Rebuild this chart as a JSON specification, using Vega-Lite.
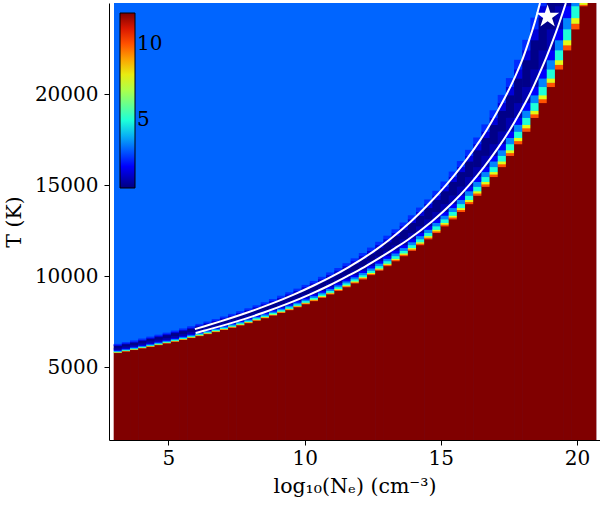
{
"$schema":"https://vega.github.io/schema/vega-lite/v6.json",
"width":491,"height":437,
"autosize":{"type":"none"},
"padding":{"left":109,"top":3,"right":0,"bottom":66},
"background":"white",
"config":{"view":{"stroke":null},
"axis":{"labelFont":"DejaVu Serif","titleFont":"DejaVu Serif","labelFontSize":20,"titleFontSize":20.5,"titleFontWeight":"normal","labelColor":"black","titleColor":"black","domainColor":"black","tickColor":"black","tickSize":5,"grid":false},
"legend":{"orient":"none","legendX":11,"legendY":10,"direction":"vertical","gradientLength":175,"gradientThickness":15,"labelFont":"DejaVu Serif","labelFontSize":20,"labelColor":"black","labelOffset":10,"gradientStrokeColor":"black","gradientStrokeWidth":1,"padding":0}},
"datasets":{
"bg":[{"x0":3,"x1":20.7,"a":1000,"b":25000,"v":3.15}],
"star":[{"x":18.92,"T":24250}],
"lines":[
{"l":"u","x":5.97,"T":7088},{"l":"u","x":6.33,"T":7250},{"l":"u","x":6.88,"T":7500},{"l":"u","x":7.90,"T":8000},{"l":"u","x":8.81,"T":8500},{"l":"u","x":9.62,"T":9000},{"l":"u","x":10.35,"T":9500},{"l":"u","x":11.02,"T":10000},{"l":"u","x":11.62,"T":10500},{"l":"u","x":12.17,"T":11000},{"l":"u","x":12.66,"T":11500},{"l":"u","x":13.11,"T":12000},{"l":"u","x":13.90,"T":13000},{"l":"u","x":14.58,"T":14000},{"l":"u","x":15.19,"T":15000},{"l":"u","x":15.74,"T":16000},{"l":"u","x":16.23,"T":17000},{"l":"u","x":16.67,"T":18000},{"l":"u","x":17.06,"T":19000},{"l":"u","x":17.42,"T":20000},{"l":"u","x":17.74,"T":21000},{"l":"u","x":18.02,"T":22000},{"l":"u","x":18.25,"T":23000},{"l":"u","x":18.46,"T":24000},{"l":"u","x":18.64,"T":25000},
{"l":"d","x":6.0,"T":6877},{"l":"d","x":6.30,"T":7000},{"l":"d","x":7.48,"T":7500},{"l":"d","x":8.50,"T":8000},{"l":"d","x":9.40,"T":8500},{"l":"d","x":10.20,"T":9000},{"l":"d","x":10.92,"T":9500},{"l":"d","x":11.57,"T":10000},{"l":"d","x":12.19,"T":10500},{"l":"d","x":12.75,"T":11000},{"l":"d","x":13.28,"T":11500},{"l":"d","x":13.79,"T":12000},{"l":"d","x":14.67,"T":13000},{"l":"d","x":15.41,"T":14000},{"l":"d","x":16.04,"T":15000},{"l":"d","x":16.59,"T":16000},{"l":"d","x":17.08,"T":17000},{"l":"d","x":17.52,"T":18000},{"l":"d","x":17.91,"T":19000},{"l":"d","x":18.27,"T":20000},{"l":"d","x":18.58,"T":21000},{"l":"d","x":18.87,"T":22000},{"l":"d","x":19.13,"T":23000},{"l":"d","x":19.37,"T":24000},{"l":"d","x":19.59,"T":25000}
],
"cells":[
{"x":3.15,"a":1000,"b":5802,"v":12.5},{"x":3.15,"a":5802,"b":5823,"v":10},{"x":3.15,"a":5823,"b":5844,"v":7.8},{"x":3.15,"a":5844,"b":5885,"v":5},{"x":3.15,"a":5885,"b":5927,"v":3.5},{"x":3.15,"a":5927,"b":5968,"v":2},{"x":3.15,"a":5968,"b":6054,"v":1.15},{"x":3.15,"a":6054,"b":6187,"v":0.7},{"x":3.15,"a":6187,"b":6233,"v":1.6},{"x":3.15,"a":6233,"b":6280,"v":2.5},
{"x":3.45,"a":1000,"b":5885,"v":12.5},{"x":3.45,"a":5885,"b":5906,"v":10},{"x":3.45,"a":5906,"b":5927,"v":7.8},{"x":3.45,"a":5927,"b":5968,"v":5},{"x":3.45,"a":5968,"b":6010,"v":3.5},{"x":3.45,"a":6010,"b":6054,"v":2},{"x":3.45,"a":6054,"b":6143,"v":1.15},{"x":3.45,"a":6143,"b":6280,"v":0.7},{"x":3.45,"a":6280,"b":6327,"v":1.6},{"x":3.45,"a":6327,"b":6374,"v":2.5},
{"x":3.75,"a":1000,"b":5968,"v":12.5},{"x":3.75,"a":5968,"b":5989,"v":10},{"x":3.75,"a":5989,"b":6010,"v":7.8},{"x":3.75,"a":6010,"b":6054,"v":5},{"x":3.75,"a":6054,"b":6099,"v":3.5},{"x":3.75,"a":6099,"b":6143,"v":2},{"x":3.75,"a":6143,"b":6233,"v":1.15},{"x":3.75,"a":6233,"b":6374,"v":0.7},{"x":3.75,"a":6374,"b":6423,"v":1.6},{"x":3.75,"a":6423,"b":6473,"v":2.5},
{"x":4.05,"a":1000,"b":6054,"v":12.5},{"x":4.05,"a":6054,"b":6077,"v":10},{"x":4.05,"a":6077,"b":6099,"v":7.8},{"x":4.05,"a":6099,"b":6143,"v":5},{"x":4.05,"a":6143,"b":6187,"v":3.5},{"x":4.05,"a":6187,"b":6233,"v":2},{"x":4.05,"a":6233,"b":6327,"v":1.15},{"x":4.05,"a":6327,"b":6473,"v":0.7},{"x":4.05,"a":6473,"b":6523,"v":1.6},{"x":4.05,"a":6523,"b":6573,"v":2.5},
{"x":4.35,"a":1000,"b":6143,"v":12.5},{"x":4.35,"a":6143,"b":6165,"v":10},{"x":4.35,"a":6165,"b":6187,"v":7.8},{"x":4.35,"a":6187,"b":6233,"v":5},{"x":4.35,"a":6233,"b":6280,"v":3.5},{"x":4.35,"a":6280,"b":6327,"v":2},{"x":4.35,"a":6327,"b":6423,"v":1.15},{"x":4.35,"a":6423,"b":6573,"v":0.7},{"x":4.35,"a":6573,"b":6625,"v":1.6},{"x":4.35,"a":6625,"b":6678,"v":2.5},
{"x":4.65,"a":1000,"b":6233,"v":12.5},{"x":4.65,"a":6233,"b":6257,"v":10},{"x":4.65,"a":6257,"b":6280,"v":7.8},{"x":4.65,"a":6280,"b":6327,"v":5},{"x":4.65,"a":6327,"b":6374,"v":3.5},{"x":4.65,"a":6374,"b":6423,"v":2},{"x":4.65,"a":6423,"b":6523,"v":1.15},{"x":4.65,"a":6523,"b":6678,"v":0.7},{"x":4.65,"a":6678,"b":6731,"v":1.6},{"x":4.65,"a":6731,"b":6784,"v":2.5},
{"x":4.95,"a":1000,"b":6327,"v":12.5},{"x":4.95,"a":6327,"b":6351,"v":10},{"x":4.95,"a":6351,"b":6374,"v":7.8},{"x":4.95,"a":6374,"b":6423,"v":5},{"x":4.95,"a":6423,"b":6473,"v":3.5},{"x":4.95,"a":6473,"b":6523,"v":2},{"x":4.95,"a":6523,"b":6625,"v":1.15},{"x":4.95,"a":6625,"b":6784,"v":0.7},{"x":4.95,"a":6784,"b":6839,"v":1.6},{"x":4.95,"a":6839,"b":6896,"v":2.5},
{"x":5.25,"a":1000,"b":6423,"v":12.5},{"x":5.25,"a":6423,"b":6448,"v":10},{"x":5.25,"a":6448,"b":6473,"v":7.8},{"x":5.25,"a":6473,"b":6523,"v":5},{"x":5.25,"a":6523,"b":6573,"v":3.5},{"x":5.25,"a":6573,"b":6625,"v":2},{"x":5.25,"a":6625,"b":6731,"v":1.15},{"x":5.25,"a":6731,"b":6896,"v":0.7},{"x":5.25,"a":6896,"b":6952,"v":1.6},{"x":5.25,"a":6952,"b":7009,"v":2.5},
{"x":5.55,"a":1000,"b":6523,"v":12.5},{"x":5.55,"a":6523,"b":6548,"v":10},{"x":5.55,"a":6548,"b":6573,"v":7.8},{"x":5.55,"a":6573,"b":6625,"v":5},{"x":5.55,"a":6625,"b":6678,"v":3.5},{"x":5.55,"a":6678,"b":6731,"v":2},{"x":5.55,"a":6731,"b":6839,"v":1.15},{"x":5.55,"a":6839,"b":7009,"v":0.7},{"x":5.55,"a":7009,"b":7068,"v":1.6},{"x":5.55,"a":7068,"b":7128,"v":2.5},
{"x":5.85,"a":1000,"b":6625,"v":12.5},{"x":5.85,"a":6625,"b":6652,"v":10},{"x":5.85,"a":6652,"b":6678,"v":7.8},{"x":5.85,"a":6678,"b":6731,"v":5},{"x":5.85,"a":6731,"b":6784,"v":3.5},{"x":5.85,"a":6784,"b":6839,"v":2},{"x":5.85,"a":6839,"b":6952,"v":1.15},{"x":5.85,"a":6952,"b":7128,"v":0.7},{"x":5.85,"a":7128,"b":7188,"v":1.6},{"x":5.85,"a":7188,"b":7250,"v":2.5},
{"x":6.15,"a":1000,"b":6731,"v":12.5},{"x":6.15,"a":6731,"b":6758,"v":10},{"x":6.15,"a":6758,"b":6784,"v":7.8},{"x":6.15,"a":6784,"b":6839,"v":5},{"x":6.15,"a":6839,"b":6896,"v":3.5},{"x":6.15,"a":6896,"b":6952,"v":2},{"x":6.15,"a":6952,"b":7068,"v":1.15},{"x":6.15,"a":7068,"b":7250,"v":0.7},{"x":6.15,"a":7250,"b":7313,"v":1.6},{"x":6.15,"a":7313,"b":7376,"v":2.5},
{"x":6.45,"a":1000,"b":6839,"v":12.5},{"x":6.45,"a":6839,"b":6868,"v":10},{"x":6.45,"a":6868,"b":6896,"v":7.8},{"x":6.45,"a":6896,"b":6952,"v":5},{"x":6.45,"a":6952,"b":7009,"v":3.5},{"x":6.45,"a":7009,"b":7068,"v":2},{"x":6.45,"a":7068,"b":7188,"v":1.15},{"x":6.45,"a":7188,"b":7376,"v":0.7},{"x":6.45,"a":7376,"b":7441,"v":1.6},{"x":6.45,"a":7441,"b":7507,"v":2.5},
{"x":6.75,"a":1000,"b":6952,"v":12.5},{"x":6.75,"a":6952,"b":6981,"v":10},{"x":6.75,"a":6981,"b":7009,"v":7.8},{"x":6.75,"a":7009,"b":7068,"v":5},{"x":6.75,"a":7068,"b":7128,"v":3.5},{"x":6.75,"a":7128,"b":7188,"v":2},{"x":6.75,"a":7188,"b":7313,"v":1.15},{"x":6.75,"a":7313,"b":7507,"v":0.7},{"x":6.75,"a":7507,"b":7573,"v":1.6},{"x":6.75,"a":7573,"b":7642,"v":2.5},
{"x":7.05,"a":1000,"b":7068,"v":12.5},{"x":7.05,"a":7068,"b":7098,"v":10},{"x":7.05,"a":7098,"b":7128,"v":7.8},{"x":7.05,"a":7128,"b":7188,"v":5},{"x":7.05,"a":7188,"b":7250,"v":3.5},{"x":7.05,"a":7250,"b":7313,"v":2},{"x":7.05,"a":7313,"b":7441,"v":1.15},{"x":7.05,"a":7441,"b":7642,"v":0.7},{"x":7.05,"a":7642,"b":7712,"v":1.6},{"x":7.05,"a":7712,"b":7781,"v":2.5},
{"x":7.35,"a":1000,"b":7188,"v":12.5},{"x":7.35,"a":7188,"b":7219,"v":10},{"x":7.35,"a":7219,"b":7250,"v":7.8},{"x":7.35,"a":7250,"b":7313,"v":5},{"x":7.35,"a":7313,"b":7376,"v":3.5},{"x":7.35,"a":7376,"b":7441,"v":2},{"x":7.35,"a":7441,"b":7573,"v":1.15},{"x":7.35,"a":7573,"b":7781,"v":0.7},{"x":7.35,"a":7781,"b":7854,"v":1.6},{"x":7.35,"a":7854,"b":7927,"v":2.5},
{"x":7.65,"a":1000,"b":7313,"v":12.5},{"x":7.65,"a":7313,"b":7345,"v":10},{"x":7.65,"a":7345,"b":7376,"v":7.8},{"x":7.65,"a":7376,"b":7441,"v":5},{"x":7.65,"a":7441,"b":7507,"v":3.5},{"x":7.65,"a":7507,"b":7573,"v":2},{"x":7.65,"a":7573,"b":7712,"v":1.15},{"x":7.65,"a":7712,"b":7927,"v":0.7},{"x":7.65,"a":7927,"b":8001,"v":1.6},{"x":7.65,"a":8001,"b":8079,"v":2.5},
{"x":7.95,"a":1000,"b":7441,"v":12.5},{"x":7.95,"a":7441,"b":7474,"v":10},{"x":7.95,"a":7474,"b":7507,"v":7.8},{"x":7.95,"a":7507,"b":7573,"v":5},{"x":7.95,"a":7573,"b":7642,"v":3.5},{"x":7.95,"a":7642,"b":7712,"v":2},{"x":7.95,"a":7712,"b":7854,"v":1.15},{"x":7.95,"a":7854,"b":8079,"v":0.7},{"x":7.95,"a":8079,"b":8156,"v":1.6},{"x":7.95,"a":8156,"b":8234,"v":2.5},
{"x":8.25,"a":1000,"b":7573,"v":12.5},{"x":8.25,"a":7573,"b":7608,"v":10},{"x":8.25,"a":7608,"b":7642,"v":7.8},{"x":8.25,"a":7642,"b":7712,"v":5},{"x":8.25,"a":7712,"b":7781,"v":3.5},{"x":8.25,"a":7781,"b":7854,"v":2},{"x":8.25,"a":7854,"b":8001,"v":1.15},{"x":8.25,"a":8001,"b":8234,"v":0.7},{"x":8.25,"a":8234,"b":8315,"v":1.6},{"x":8.25,"a":8315,"b":8397,"v":2.5},
{"x":8.55,"a":1000,"b":7712,"v":12.5},{"x":8.55,"a":7712,"b":7747,"v":10},{"x":8.55,"a":7747,"b":7781,"v":7.8},{"x":8.55,"a":7781,"b":7854,"v":5},{"x":8.55,"a":7854,"b":7927,"v":3.5},{"x":8.55,"a":7927,"b":8001,"v":2},{"x":8.55,"a":8001,"b":8156,"v":1.15},{"x":8.55,"a":8156,"b":8397,"v":0.7},{"x":8.55,"a":8397,"b":8479,"v":1.6},{"x":8.55,"a":8479,"b":8566,"v":2.5},
{"x":8.85,"a":1000,"b":7854,"v":12.5},{"x":8.85,"a":7854,"b":7891,"v":10},{"x":8.85,"a":7891,"b":7927,"v":7.8},{"x":8.85,"a":7927,"b":8001,"v":5},{"x":8.85,"a":8001,"b":8079,"v":3.5},{"x":8.85,"a":8079,"b":8156,"v":2},{"x":8.85,"a":8156,"b":8315,"v":1.15},{"x":8.85,"a":8315,"b":8566,"v":0.7},{"x":8.85,"a":8566,"b":8653,"v":1.6},{"x":8.85,"a":8653,"b":8740,"v":2.5},
{"x":9.15,"a":1000,"b":8001,"v":12.5},{"x":9.15,"a":8001,"b":8040,"v":10},{"x":9.15,"a":8040,"b":8079,"v":7.8},{"x":9.15,"a":8079,"b":8156,"v":5},{"x":9.15,"a":8156,"b":8234,"v":3.5},{"x":9.15,"a":8234,"b":8315,"v":2},{"x":9.15,"a":8315,"b":8479,"v":1.15},{"x":9.15,"a":8479,"b":8740,"v":0.7},{"x":9.15,"a":8740,"b":8832,"v":1.6},{"x":9.15,"a":8832,"b":8924,"v":2.5},
{"x":9.45,"a":1000,"b":8156,"v":12.5},{"x":9.45,"a":8156,"b":8195,"v":10},{"x":9.45,"a":8195,"b":8234,"v":7.8},{"x":9.45,"a":8234,"b":8315,"v":5},{"x":9.45,"a":8315,"b":8397,"v":3.5},{"x":9.45,"a":8397,"b":8479,"v":2},{"x":9.45,"a":8479,"b":8653,"v":1.15},{"x":9.45,"a":8653,"b":8924,"v":0.7},{"x":9.45,"a":8924,"b":9018,"v":1.6},{"x":9.45,"a":9018,"b":9115,"v":2.5},
{"x":9.75,"a":1000,"b":8315,"v":12.5},{"x":9.75,"a":8315,"b":8356,"v":10},{"x":9.75,"a":8356,"b":8397,"v":7.8},{"x":9.75,"a":8397,"b":8479,"v":5},{"x":9.75,"a":8479,"b":8566,"v":3.5},{"x":9.75,"a":8566,"b":8653,"v":2},{"x":9.75,"a":8653,"b":8832,"v":1.15},{"x":9.75,"a":8832,"b":9115,"v":0.7},{"x":9.75,"a":9115,"b":9212,"v":1.6},{"x":9.75,"a":9212,"b":9313,"v":2.5},
{"x":10.05,"a":1000,"b":8479,"v":12.5},{"x":10.05,"a":8479,"b":8523,"v":10},{"x":10.05,"a":8523,"b":8566,"v":7.8},{"x":10.05,"a":8566,"b":8653,"v":5},{"x":10.05,"a":8653,"b":8740,"v":3.5},{"x":10.05,"a":8740,"b":8832,"v":2},{"x":10.05,"a":8832,"b":9018,"v":1.15},{"x":10.05,"a":9018,"b":9313,"v":0.7},{"x":10.05,"a":9313,"b":9415,"v":1.6},{"x":10.05,"a":9415,"b":9519,"v":2.5},
{"x":10.35,"a":1000,"b":8653,"v":12.5},{"x":10.35,"a":8653,"b":8697,"v":10},{"x":10.35,"a":8697,"b":8740,"v":7.8},{"x":10.35,"a":8740,"b":8832,"v":5},{"x":10.35,"a":8832,"b":8924,"v":3.5},{"x":10.35,"a":8924,"b":9018,"v":2},{"x":10.35,"a":9018,"b":9212,"v":1.15},{"x":10.35,"a":9212,"b":9519,"v":0.7},{"x":10.35,"a":9519,"b":9627,"v":1.6},{"x":10.35,"a":9627,"b":9735,"v":2.5},
{"x":10.65,"a":1000,"b":8832,"v":12.5},{"x":10.65,"a":8832,"b":8878,"v":10},{"x":10.65,"a":8878,"b":8924,"v":7.8},{"x":10.65,"a":8924,"b":9018,"v":5},{"x":10.65,"a":9018,"b":9115,"v":3.5},{"x":10.65,"a":9115,"b":9212,"v":2},{"x":10.65,"a":9212,"b":9415,"v":1.15},{"x":10.65,"a":9415,"b":9735,"v":0.7},{"x":10.65,"a":9735,"b":9848,"v":1.6},{"x":10.65,"a":9848,"b":9961,"v":2.5},
{"x":10.95,"a":1000,"b":9018,"v":12.5},{"x":10.95,"a":9018,"b":9067,"v":10},{"x":10.95,"a":9067,"b":9115,"v":7.8},{"x":10.95,"a":9115,"b":9212,"v":5},{"x":10.95,"a":9212,"b":9313,"v":3.5},{"x":10.95,"a":9313,"b":9415,"v":2},{"x":10.95,"a":9415,"b":9627,"v":1.15},{"x":10.95,"a":9627,"b":9961,"v":0.7},{"x":10.95,"a":9961,"b":10081,"v":1.6},{"x":10.95,"a":10081,"b":10203,"v":2.5},
{"x":11.25,"a":1000,"b":9212,"v":12.5},{"x":11.25,"a":9212,"b":9263,"v":10},{"x":11.25,"a":9263,"b":9313,"v":7.8},{"x":11.25,"a":9313,"b":9415,"v":5},{"x":11.25,"a":9415,"b":9519,"v":3.5},{"x":11.25,"a":9519,"b":9627,"v":2},{"x":11.25,"a":9627,"b":9848,"v":1.15},{"x":11.25,"a":9848,"b":10203,"v":0.7},{"x":11.25,"a":10203,"b":10325,"v":1.6},{"x":11.25,"a":10325,"b":10447,"v":2.5},
{"x":11.55,"a":1000,"b":9415,"v":12.5},{"x":11.55,"a":9415,"b":9467,"v":10},{"x":11.55,"a":9467,"b":9519,"v":7.8},{"x":11.55,"a":9519,"b":9627,"v":5},{"x":11.55,"a":9627,"b":9735,"v":3.5},{"x":11.55,"a":9735,"b":9848,"v":2},{"x":11.55,"a":9848,"b":10081,"v":1.15},{"x":11.55,"a":10081,"b":10447,"v":0.7},{"x":11.55,"a":10447,"b":10576,"v":1.6},{"x":11.55,"a":10576,"b":10710,"v":2.5},
{"x":11.85,"a":1000,"b":9627,"v":12.5},{"x":11.85,"a":9627,"b":9681,"v":10},{"x":11.85,"a":9681,"b":9735,"v":7.8},{"x":11.85,"a":9735,"b":9848,"v":5},{"x":11.85,"a":9848,"b":9961,"v":3.5},{"x":11.85,"a":9961,"b":10081,"v":2},{"x":11.85,"a":10081,"b":10325,"v":1.15},{"x":11.85,"a":10325,"b":10710,"v":0.7},{"x":11.85,"a":10710,"b":10844,"v":1.6},{"x":11.85,"a":10844,"b":10978,"v":2.5},
{"x":12.15,"a":1000,"b":9848,"v":12.5},{"x":12.15,"a":9848,"b":9905,"v":10},{"x":12.15,"a":9905,"b":9961,"v":7.8},{"x":12.15,"a":9961,"b":10081,"v":5},{"x":12.15,"a":10081,"b":10203,"v":3.5},{"x":12.15,"a":10203,"b":10325,"v":2},{"x":12.15,"a":10325,"b":10576,"v":1.15},{"x":12.15,"a":10576,"b":10978,"v":0.7},{"x":12.15,"a":10978,"b":11122,"v":1.6},{"x":12.15,"a":11122,"b":11269,"v":2.5},
{"x":12.45,"a":1000,"b":10081,"v":12.5},{"x":12.45,"a":10081,"b":10142,"v":10},{"x":12.45,"a":10142,"b":10203,"v":7.8},{"x":12.45,"a":10203,"b":10325,"v":5},{"x":12.45,"a":10325,"b":10447,"v":3.5},{"x":12.45,"a":10447,"b":10576,"v":2},{"x":12.45,"a":10576,"b":10844,"v":1.15},{"x":12.45,"a":10844,"b":11269,"v":0.7},{"x":12.45,"a":11269,"b":11415,"v":1.6},{"x":12.45,"a":11415,"b":11567,"v":2.5},
{"x":12.75,"a":1000,"b":10325,"v":12.5},{"x":12.75,"a":10325,"b":10386,"v":10},{"x":12.75,"a":10386,"b":10447,"v":7.8},{"x":12.75,"a":10447,"b":10576,"v":5},{"x":12.75,"a":10576,"b":10710,"v":3.5},{"x":12.75,"a":10710,"b":10844,"v":2},{"x":12.75,"a":10844,"b":11122,"v":1.15},{"x":12.75,"a":11122,"b":11567,"v":0.7},{"x":12.75,"a":11567,"b":11726,"v":1.6},{"x":12.75,"a":11726,"b":11885,"v":2.5},
{"x":13.05,"a":1000,"b":10576,"v":12.5},{"x":13.05,"a":10576,"b":10643,"v":10},{"x":13.05,"a":10643,"b":10710,"v":7.8},{"x":13.05,"a":10710,"b":10844,"v":5},{"x":13.05,"a":10844,"b":10978,"v":3.5},{"x":13.05,"a":10978,"b":11122,"v":2},{"x":13.05,"a":11122,"b":11415,"v":1.15},{"x":13.05,"a":11415,"b":11885,"v":0.7},{"x":13.05,"a":11885,"b":12048,"v":1.6},{"x":13.05,"a":12048,"b":12221,"v":2.5},
{"x":13.35,"a":1000,"b":10844,"v":12.5},{"x":13.35,"a":10844,"b":10911,"v":10},{"x":13.35,"a":10911,"b":10978,"v":7.8},{"x":13.35,"a":10978,"b":11122,"v":5},{"x":13.35,"a":11122,"b":11269,"v":3.5},{"x":13.35,"a":11269,"b":11415,"v":2},{"x":13.35,"a":11415,"b":11726,"v":1.15},{"x":13.35,"a":11726,"b":12221,"v":0.7},{"x":13.35,"a":12221,"b":12394,"v":1.6},{"x":13.35,"a":12394,"b":12572,"v":2.5},
{"x":13.65,"a":1000,"b":11122,"v":12.5},{"x":13.65,"a":11122,"b":11196,"v":10},{"x":13.65,"a":11196,"b":11269,"v":7.8},{"x":13.65,"a":11269,"b":11415,"v":5},{"x":13.65,"a":11415,"b":11567,"v":3.5},{"x":13.65,"a":11567,"b":11726,"v":2},{"x":13.65,"a":11726,"b":12048,"v":1.15},{"x":13.65,"a":12048,"b":12572,"v":0.7},{"x":13.65,"a":12572,"b":12759,"v":1.6},{"x":13.65,"a":12759,"b":12945,"v":2.5},
{"x":13.95,"a":1000,"b":11415,"v":12.5},{"x":13.95,"a":11415,"b":11491,"v":10},{"x":13.95,"a":11491,"b":11567,"v":7.8},{"x":13.95,"a":11567,"b":11726,"v":5},{"x":13.95,"a":11726,"b":11885,"v":3.5},{"x":13.95,"a":11885,"b":12048,"v":2},{"x":13.95,"a":12048,"b":12394,"v":1.15},{"x":13.95,"a":12394,"b":12945,"v":0.7},{"x":13.95,"a":12945,"b":13142,"v":1.6},{"x":13.95,"a":13142,"b":13343,"v":2.5},
{"x":14.25,"a":1000,"b":11726,"v":12.5},{"x":14.25,"a":11726,"b":11806,"v":10},{"x":14.25,"a":11806,"b":11885,"v":7.8},{"x":14.25,"a":11885,"b":12048,"v":5},{"x":14.25,"a":12048,"b":12221,"v":3.5},{"x":14.25,"a":12221,"b":12394,"v":2},{"x":14.25,"a":12394,"b":12759,"v":1.15},{"x":14.25,"a":12759,"b":13343,"v":0.7},{"x":14.25,"a":13343,"b":13548,"v":1.6},{"x":14.25,"a":13548,"b":13764,"v":2.5},
{"x":14.55,"a":1000,"b":12048,"v":12.5},{"x":14.55,"a":12048,"b":12135,"v":10},{"x":14.55,"a":12135,"b":12221,"v":7.8},{"x":14.55,"a":12221,"b":12394,"v":5},{"x":14.55,"a":12394,"b":12572,"v":3.5},{"x":14.55,"a":12572,"b":12759,"v":2},{"x":14.55,"a":12759,"b":13142,"v":1.15},{"x":14.55,"a":13142,"b":13764,"v":0.7},{"x":14.55,"a":13764,"b":13980,"v":1.6},{"x":14.55,"a":13980,"b":14210,"v":2.5},
{"x":14.85,"a":1000,"b":12394,"v":12.5},{"x":14.85,"a":12394,"b":12483,"v":10},{"x":14.85,"a":12483,"b":12572,"v":7.8},{"x":14.85,"a":12572,"b":12759,"v":5},{"x":14.85,"a":12759,"b":12945,"v":3.5},{"x":14.85,"a":12945,"b":13142,"v":2},{"x":14.85,"a":13142,"b":13548,"v":1.15},{"x":14.85,"a":13548,"b":14210,"v":0.7},{"x":14.85,"a":14210,"b":14441,"v":1.6},{"x":14.85,"a":14441,"b":14685,"v":2.5},
{"x":15.15,"a":1000,"b":12759,"v":12.5},{"x":15.15,"a":12759,"b":12852,"v":10},{"x":15.15,"a":12852,"b":12945,"v":7.8},{"x":15.15,"a":12945,"b":13142,"v":5},{"x":15.15,"a":13142,"b":13343,"v":3.5},{"x":15.15,"a":13343,"b":13548,"v":2},{"x":15.15,"a":13548,"b":13980,"v":1.15},{"x":15.15,"a":13980,"b":14685,"v":0.7},{"x":15.15,"a":14685,"b":14932,"v":1.6},{"x":15.15,"a":14932,"b":15198,"v":2.5},
{"x":15.45,"a":1000,"b":13142,"v":12.5},{"x":15.45,"a":13142,"b":13243,"v":10},{"x":15.45,"a":13243,"b":13343,"v":7.8},{"x":15.45,"a":13343,"b":13548,"v":5},{"x":15.45,"a":13548,"b":13764,"v":3.5},{"x":15.45,"a":13764,"b":13980,"v":2},{"x":15.45,"a":13980,"b":14441,"v":1.15},{"x":15.45,"a":14441,"b":15198,"v":0.7},{"x":15.45,"a":15198,"b":15469,"v":1.6},{"x":15.45,"a":15469,"b":15741,"v":2.5},
{"x":15.75,"a":1000,"b":13548,"v":12.5},{"x":15.75,"a":13548,"b":13656,"v":10},{"x":15.75,"a":13656,"b":13764,"v":7.8},{"x":15.75,"a":13764,"b":13980,"v":5},{"x":15.75,"a":13980,"b":14210,"v":3.5},{"x":15.75,"a":14210,"b":14441,"v":2},{"x":15.75,"a":14441,"b":14932,"v":1.15},{"x":15.75,"a":14932,"b":15741,"v":0.7},{"x":15.75,"a":15741,"b":16014,"v":1.6},{"x":15.75,"a":16014,"b":16321,"v":2.5},
{"x":16.05,"a":1000,"b":13980,"v":12.5},{"x":16.05,"a":13980,"b":14095,"v":10},{"x":16.05,"a":14095,"b":14210,"v":7.8},{"x":16.05,"a":14210,"b":14441,"v":5},{"x":16.05,"a":14441,"b":14685,"v":3.5},{"x":16.05,"a":14685,"b":14932,"v":2},{"x":16.05,"a":14932,"b":15469,"v":1.15},{"x":16.05,"a":15469,"b":16321,"v":0.7},{"x":16.05,"a":16321,"b":16628,"v":1.6},{"x":16.05,"a":16628,"b":16935,"v":2.5},
{"x":16.35,"a":1000,"b":14441,"v":12.5},{"x":16.35,"a":14441,"b":14563,"v":10},{"x":16.35,"a":14563,"b":14685,"v":7.8},{"x":16.35,"a":14685,"b":14932,"v":5},{"x":16.35,"a":14932,"b":15198,"v":3.5},{"x":16.35,"a":15198,"b":15469,"v":2},{"x":16.35,"a":15469,"b":16014,"v":1.15},{"x":16.35,"a":16014,"b":16935,"v":0.7},{"x":16.35,"a":16935,"b":17270,"v":1.6},{"x":16.35,"a":17270,"b":17613,"v":2.5},
{"x":16.65,"a":1000,"b":14932,"v":12.5},{"x":16.65,"a":14932,"b":15065,"v":10},{"x":16.65,"a":15065,"b":15198,"v":7.8},{"x":16.65,"a":15198,"b":15469,"v":5},{"x":16.65,"a":15469,"b":15741,"v":3.5},{"x":16.65,"a":15741,"b":16014,"v":2},{"x":16.65,"a":16014,"b":16628,"v":1.15},{"x":16.65,"a":16628,"b":17613,"v":0.7},{"x":16.65,"a":17613,"b":17956,"v":1.6},{"x":16.65,"a":17956,"b":18333,"v":2.5},
{"x":16.95,"a":1000,"b":15469,"v":12.5},{"x":16.95,"a":15469,"b":15605,"v":10},{"x":16.95,"a":15605,"b":15741,"v":7.8},{"x":16.95,"a":15741,"b":16014,"v":5},{"x":16.95,"a":16014,"b":16321,"v":3.5},{"x":16.95,"a":16321,"b":16628,"v":2},{"x":16.95,"a":16628,"b":17270,"v":1.15},{"x":16.95,"a":17270,"b":18333,"v":0.7},{"x":16.95,"a":18333,"b":18715,"v":1.6},{"x":16.95,"a":18715,"b":19107,"v":2.5},
{"x":17.25,"a":1000,"b":16014,"v":12.5},{"x":17.25,"a":16014,"b":16168,"v":10},{"x":17.25,"a":16168,"b":16321,"v":7.8},{"x":17.25,"a":16321,"b":16628,"v":5},{"x":17.25,"a":16628,"b":16935,"v":3.5},{"x":17.25,"a":16935,"b":17270,"v":2},{"x":17.25,"a":17270,"b":17956,"v":1.15},{"x":17.25,"a":17956,"b":19107,"v":0.7},{"x":17.25,"a":19107,"b":19530,"v":1.6},{"x":17.25,"a":19530,"b":19952,"v":2.5},
{"x":17.55,"a":1000,"b":16628,"v":12.5},{"x":17.55,"a":16628,"b":16782,"v":10},{"x":17.55,"a":16782,"b":16935,"v":7.8},{"x":17.55,"a":16935,"b":17270,"v":5},{"x":17.55,"a":17270,"b":17613,"v":3.5},{"x":17.55,"a":17613,"b":17956,"v":2},{"x":17.55,"a":17956,"b":18715,"v":1.15},{"x":17.55,"a":18715,"b":19952,"v":0.7},{"x":17.55,"a":19952,"b":20412,"v":1.6},{"x":17.55,"a":20412,"b":20876,"v":2.5},
{"x":17.85,"a":1000,"b":17270,"v":12.5},{"x":17.85,"a":17270,"b":17442,"v":10},{"x":17.85,"a":17442,"b":17613,"v":7.8},{"x":17.85,"a":17613,"b":17956,"v":5},{"x":17.85,"a":17956,"b":18333,"v":3.5},{"x":17.85,"a":18333,"b":18715,"v":2},{"x":17.85,"a":18715,"b":19530,"v":1.15},{"x":17.85,"a":19530,"b":20876,"v":0.7},{"x":17.85,"a":20876,"b":21373,"v":1.6},{"x":17.85,"a":21373,"b":21881,"v":2.5},
{"x":18.15,"a":1000,"b":17956,"v":12.5},{"x":18.15,"a":17956,"b":18145,"v":10},{"x":18.15,"a":18145,"b":18333,"v":7.8},{"x":18.15,"a":18333,"b":18715,"v":5},{"x":18.15,"a":18715,"b":19107,"v":3.5},{"x":18.15,"a":19107,"b":19530,"v":2},{"x":18.15,"a":19530,"b":20412,"v":1.15},{"x":18.15,"a":20412,"b":21881,"v":0.7},{"x":18.15,"a":21881,"b":22424,"v":1.6},{"x":18.15,"a":22424,"b":22978,"v":2.5},
{"x":18.45,"a":1000,"b":18715,"v":12.5},{"x":18.45,"a":18715,"b":18911,"v":10},{"x":18.45,"a":18911,"b":19107,"v":7.8},{"x":18.45,"a":19107,"b":19530,"v":5},{"x":18.45,"a":19530,"b":19952,"v":3.5},{"x":18.45,"a":19952,"b":20412,"v":2},{"x":18.45,"a":20412,"b":21373,"v":1.15},{"x":18.45,"a":21373,"b":22978,"v":0.7},{"x":18.45,"a":22978,"b":23578,"v":1.6},{"x":18.45,"a":23578,"b":24196,"v":2.5},
{"x":18.75,"a":1000,"b":19530,"v":12.5},{"x":18.75,"a":19530,"b":19741,"v":10},{"x":18.75,"a":19741,"b":19952,"v":7.8},{"x":18.75,"a":19952,"b":20412,"v":5},{"x":18.75,"a":20412,"b":20876,"v":3.5},{"x":18.75,"a":20876,"b":21373,"v":2},{"x":18.75,"a":21373,"b":22424,"v":1.15},{"x":18.75,"a":22424,"b":24196,"v":0.7},{"x":18.75,"a":24196,"b":24848,"v":1.6},{"x":18.75,"a":24848,"b":25000,"v":2.5},
{"x":19.05,"a":1000,"b":20412,"v":12.5},{"x":19.05,"a":20412,"b":20644,"v":10},{"x":19.05,"a":20644,"b":20876,"v":7.8},{"x":19.05,"a":20876,"b":21373,"v":5},{"x":19.05,"a":21373,"b":21881,"v":3.5},{"x":19.05,"a":21881,"b":22424,"v":2},{"x":19.05,"a":22424,"b":23578,"v":1.15},{"x":19.05,"a":23578,"b":25000,"v":0.7},
{"x":19.35,"a":1000,"b":21373,"v":12.5},{"x":19.35,"a":21373,"b":21627,"v":10},{"x":19.35,"a":21627,"b":21881,"v":7.8},{"x":19.35,"a":21881,"b":22424,"v":5},{"x":19.35,"a":22424,"b":22978,"v":3.5},{"x":19.35,"a":22978,"b":23578,"v":2},{"x":19.35,"a":23578,"b":24848,"v":1.15},{"x":19.35,"a":24848,"b":25000,"v":0.7},
{"x":19.65,"a":1000,"b":22424,"v":12.5},{"x":19.65,"a":22424,"b":22701,"v":10},{"x":19.65,"a":22701,"b":22978,"v":7.8},{"x":19.65,"a":22978,"b":23578,"v":5},{"x":19.65,"a":23578,"b":24196,"v":3.5},{"x":19.65,"a":24196,"b":24848,"v":2},{"x":19.65,"a":24848,"b":25000,"v":1.15},
{"x":19.95,"a":1000,"b":23578,"v":12.5},{"x":19.95,"a":23578,"b":23887,"v":10},{"x":19.95,"a":23887,"b":24196,"v":7.8},{"x":19.95,"a":24196,"b":24848,"v":5},{"x":19.95,"a":24848,"b":25000,"v":3.5},
{"x":20.25,"a":1000,"b":24848,"v":12.5},{"x":20.25,"a":24848,"b":24924,"v":10},{"x":20.25,"a":24924,"b":25000,"v":7.8},
{"x":20.55,"a":1000,"b":25000,"v":12.5}
]},
"layer":[
{"data":{"name":"bg"},"mark":{"type":"rect","clip":true},
"encoding":{
"x":{"field":"x0","type":"quantitative","scale":{"domain":[3,20.66],"nice":false,"zero":false},"axis":{"values":[5,10,15,20],"title":"log₁₀(Nₑ) (cm⁻³)","labelPadding":3,"titlePadding":8}},
"x2":{"field":"x1"},
"y":{"field":"b","type":"quantitative","scale":{"domain":[1000,25000],"nice":false,"zero":false},"axis":{"values":[5000,10000,15000,20000],"format":"d","title":"T (K)","labelPadding":6,"titlePadding":10}},
"y2":{"field":"a"},
"color":{"field":"v","type":"quantitative","scale":{"domain":[0.6,2.025,3.45,4.875,6.3,7.725,9.15,10.575,12],"range":["#000080","#0000ff","#0080ff","#14ffe2","#7bff7b","#e2ff15","#ff9700","#ff2100","#800000"],"clamp":true,"interpolate":"rgb"},"legend":{"values":[5,10],"title":null}}}},
{"data":{"name":"cells"},"mark":{"type":"bar","width":8.8,"clip":true,"y2Offset":0.5},
"encoding":{
"x":{"field":"x","type":"quantitative"},
"y":{"field":"b","type":"quantitative"},
"y2":{"field":"a"},
"color":{"field":"v","type":"quantitative"}}},
{"data":{"name":"lines"},"mark":{"type":"line","color":"white","strokeWidth":2,"clip":true,"interpolate":"monotone"},
"encoding":{"x":{"field":"x","type":"quantitative"},"y":{"field":"T","type":"quantitative"},"detail":{"field":"l"},"order":{"field":"T"}}},
{"data":{"name":"star"},"mark":{"type":"point","filled":true,"color":"white","opacity":1,"size":600,"shape":"M0,-1L0.2245,-0.309L0.951,-0.309L0.3633,0.118L0.588,0.809L0,0.382L-0.588,0.809L-0.3633,0.118L-0.951,-0.309L-0.2245,-0.309Z"},
"encoding":{"x":{"field":"x","type":"quantitative"},"y":{"field":"T","type":"quantitative"}}},
{"mark":{"type":"rule","color":"black","strokeWidth":1},"encoding":{"y":{"datum":25000}}}
]
}
